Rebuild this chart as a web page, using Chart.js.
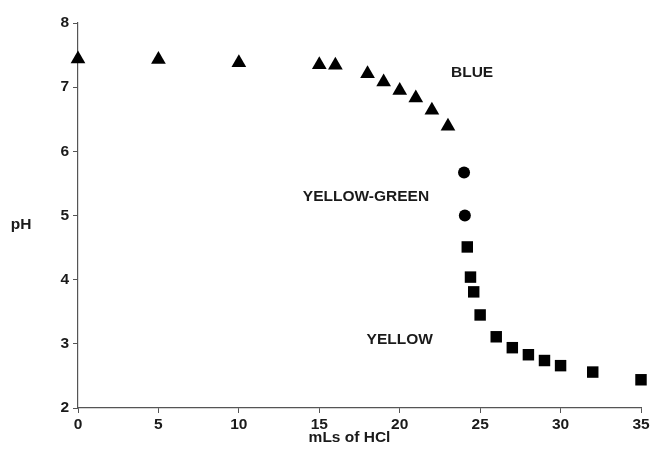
<!DOCTYPE html>
<html>
<head>
<meta charset="utf-8">
<script src="https://cdn.jsdelivr.net/npm/chart.js@4.4.1/dist/chart.umd.min.js"></script>
<style>
  html, body { margin: 0; padding: 0; background: #fff; }
  #wrap { width: 652px; height: 449px; }
</style>
</head>
<body>
<div id="wrap"><canvas id="chart"></canvas></div>
<script>
// Datos (mL de HCl vs pH)
const blueX = [0, 5, 10, 15, 16, 18, 19, 20, 21, 22, 23];
const blueY = [7.44, 7.43, 7.38, 7.35, 7.34, 7.21, 7.08, 6.95, 6.83, 6.64, 6.39];

const greenX = [24.0, 24.05];
const greenY = [5.67, 5.0];

const yellowX = [24.2, 24.4, 24.6, 25, 26, 27, 28, 29, 30, 32, 35];
const yellowY = [4.51, 4.04, 3.81, 3.45, 3.11, 2.94, 2.83, 2.74, 2.66, 2.56, 2.44];

const xTicks = [0, 5, 10, 15, 20, 25, 30, 35];
const yTicks = [2, 3, 4, 5, 6, 7, 8];

// Etiquetas de color dentro del gráfico
const zoneLabels = ["BLUE", "YELLOW-GREEN", "YELLOW"];
const zoneX = [24.5, 17.9, 20.0];
const zoneY = [7.22, 5.29, 3.07];

const FONT = "'Liberation Sans', Arial, Helvetica, sans-serif";
const INK = "#1a1a1a";

function toPoints(xs, ys){
  return xs.map((x, i) => ({ x: x, y: ys[i] }));
}

// Plugin: títulos de ejes y etiquetas de zona
const textPlugin = {
  id: "texts",
  afterDraw(chart){
    const ctx = chart.ctx;
    const xs = chart.scales.x, ys = chart.scales.y;
    const area = chart.chartArea;
    ctx.save();
    ctx.fillStyle = INK;
    ctx.font = "bold 15.5px " + FONT;
    ctx.textAlign = "center";
    ctx.textBaseline = "middle";
    zoneLabels.forEach((t, i) => {
      ctx.fillText(t, xs.getPixelForValue(zoneX[i]), ys.getPixelForValue(zoneY[i]));
    });
    ctx.fillText("pH", 21, (area.top + area.bottom) / 2 + 9);
    ctx.fillText("mLs of HCl", (area.left + area.right) / 2 - 10, 438);
    ctx.restore();
  }
};

const ctx = document.getElementById("chart").getContext("2d");
new Chart(ctx, {
  type: "scatter",
  data: {
    datasets: [
      {
        label: "Blue",
        data: toPoints(blueX, blueY),
        pointStyle: "triangle",
        pointRadius: 8.5,
        backgroundColor: "#000",
        borderColor: "#000",
        borderWidth: 0,
        clip: false
      },
      {
        label: "Yellow-green",
        data: toPoints(greenX, greenY),
        pointStyle: "circle",
        pointRadius: 6,
        backgroundColor: "#000",
        borderColor: "#000",
        borderWidth: 0,
        clip: false
      },
      {
        label: "Yellow",
        data: toPoints(yellowX, yellowY),
        pointStyle: "rect",
        pointRadius: 8.1,
        backgroundColor: "#000",
        borderColor: "#000",
        borderWidth: 0,
        clip: false
      }
    ]
  },
  options: {
    responsive: true,
    maintainAspectRatio: false,
    animation: false,
    layout: { padding: { top: 23, right: 11, left: 0, bottom: 0 } },
    plugins: {
      legend: { display: false },
      tooltip: { enabled: false }
    },
    scales: {
      x: {
        type: "linear",
        min: 0,
        max: 35,
        afterFit(scale){ scale.height = 41; },
        afterBuildTicks(scale){ scale.ticks = xTicks.map(v => ({ value: v })); },
        border: { display: true, color: "#555", width: 1.2 },
        grid: { drawOnChartArea: false, drawTicks: true, tickLength: 5, color: "#555" },
        ticks: { color: INK, padding: 2, font: { family: FONT, size: 15.5, weight: "bold" }, maxRotation: 0 }
      },
      y: {
        type: "linear",
        min: 2,
        max: 8,
        afterFit(scale){ scale.width = 78; },
        afterBuildTicks(scale){ scale.ticks = yTicks.map(v => ({ value: v })); },
        border: { display: true, color: "#555", width: 1.2 },
        grid: { drawOnChartArea: false, drawTicks: true, tickLength: 5, color: "#555" },
        ticks: { color: INK, padding: 4, font: { family: FONT, size: 15.5, weight: "bold" } }
      }
    }
  },
  plugins: [textPlugin]
});
</script>
</body>
</html>
